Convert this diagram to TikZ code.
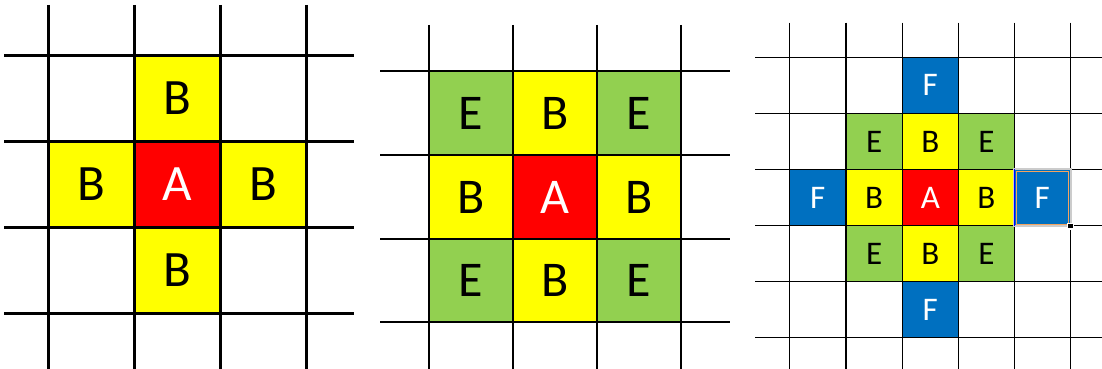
\documentclass[tikz,border=0pt]{standalone}
\usepackage{fontspec}
\setmainfont{Carlito}
\definecolor{cyel}{HTML}{FFFF00}
\definecolor{cred}{HTML}{FF0000}
\definecolor{cgrn}{HTML}{92D050}
\definecolor{cblu}{HTML}{0070C0}
\definecolor{csel}{HTML}{F4A460}
\begin{document}
\begin{tikzpicture}[x=1pt,y=-1pt,
  yel/.style={fill=cyel,text=black},
  redc/.style={fill=cred,text=white},
  grn/.style={fill=cgrn,text=black},
  blu/.style={fill=cblu,text=white},
  pone/.style={minimum size=86pt,inner sep=0pt,font=\fontsize{51}{51}\selectfont},
  ptwo/.style={minimum size=84pt,inner sep=0pt,font=\fontsize{50}{50}\selectfont},
  pthree/.style={minimum size=56.2pt,inner sep=0pt,font=\fontsize{33}{33}\selectfont},
  gridone/.style={line width=2.6pt,black},
  gridtwov/.style={line width=1.8pt,black},
  gridtwoh/.style={line width=2.3pt,black},
  gridthree/.style={line width=1.5pt,black}
]
\useasboundingbox (0,0) rectangle (1102,369);
\fill[white] (0,0) rectangle (1102,369);

% ---------- panel 1 ----------
\node[pone,yel]  (p1t) at (177.3,98.5)  {B};
\node[pone,yel]  (p1l) at (91.3,184.5)  {B};
\node[pone,redc] (p1a) at (177.3,184.5) {A};
\node[pone,yel]  (p1r) at (263.3,184.5) {B};
\node[pone,yel]  (p1b) at (177.3,270.3) {B};
\foreach \x in {48.3,134.3,220.3,306.3} \draw[gridone] (\x,5) -- (\x,369);
\foreach \y in {55.3,141.7,227.3,313.3} \draw[gridone] (4,\y) -- (354,\y);

% ---------- panel 2 ----------
\node[ptwo,grn]  (p2e1) at (471,113)   {E};
\node[ptwo,yel]  (p2t)  at (555,113)   {B};
\node[ptwo,grn]  (p2e2) at (639,113)   {E};
\node[ptwo,yel]  (p2l)  at (471,197)   {B};
\node[ptwo,redc] (p2a)  at (555,197)   {A};
\node[ptwo,yel]  (p2r)  at (639,197)   {B};
\node[ptwo,grn]  (p2e3) at (471,280.7) {E};
\node[ptwo,yel]  (p2b)  at (555,280.7) {B};
\node[ptwo,grn]  (p2e4) at (639,280.7) {E};
\foreach \x in {429,513,597,681} \draw[gridtwov] (\x,25) -- (\x,369);
\foreach \y in {71.3,155,239,322.3} \draw[gridtwoh] (380,\y) -- (730,\y);

% ---------- panel 3 ----------
\node[pthree,blu]  (p3ft) at (930.3,85.3)  {F};
\node[pthree,grn]  (p3e1) at (874.2,141.5) {E};
\node[pthree,yel]  (p3bt) at (930.3,141.5) {B};
\node[pthree,grn]  (p3e2) at (986.3,141.5) {E};
\node[pthree,blu]  (p3fl) at (817.7,197.7) {F};
\node[pthree,yel]  (p3bl) at (874.2,197.7) {B};
\node[pthree,redc] (p3a)  at (930.3,197.7) {A};
\node[pthree,yel]  (p3br) at (986.3,197.7) {B};
\node[pthree,blu]  (p3fr) at (1042.3,197.7) {F};
\node[pthree,grn]  (p3e3) at (874.2,253.7) {E};
\node[pthree,yel]  (p3bb) at (930.3,253.7) {B};
\node[pthree,grn]  (p3e4) at (986.3,253.7) {E};
\node[pthree,blu]  (p3fb) at (930.3,309.7) {F};
\foreach \x in {789.3,846,902.3,958.3,1014.3,1070.3} \draw[gridthree] (\x,22.7) -- (\x,369);
\foreach \y in {57.3,113.3,169.7,225.7,281.7,337.7} \draw[gridthree] (755,\y) -- (1102,\y);

% selection frame around right F
\draw[line width=2pt,black!20] (p3fr.north west) rectangle (p3fr.south east);
\draw[line width=1pt,csel] ([shift={(2,2)}]p3fr.north west) rectangle ([shift={(-2,-2)}]p3fr.south east);
\draw[line width=1pt,blue] ([xshift=0.5pt]p3fr.north west) -- ([xshift=0.5pt]p3fr.south west);
\coordinate (hd) at ([shift={(0,0)}]p3fr.south east);
\fill[white] ([shift={(-3.5,-3.5)}]hd) rectangle ([shift={(3.5,3.5)}]hd);
\fill[black] ([shift={(-2.2,-2.2)}]hd) rectangle ([shift={(2.2,2.2)}]hd);
\end{tikzpicture}
\end{document}
